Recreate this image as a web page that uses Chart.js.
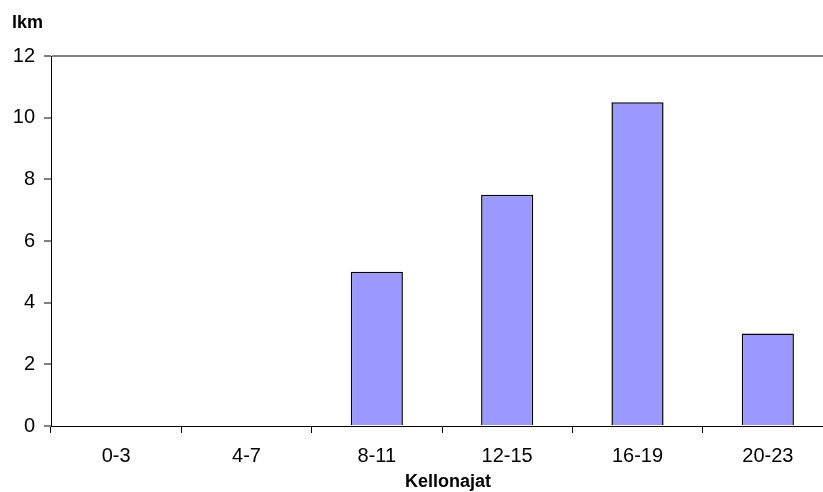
<!DOCTYPE html>
<html>
<head>
<meta charset="utf-8">
<script src="https://cdn.jsdelivr.net/npm/chart.js@4/dist/chart.umd.min.js"></script>
<style>
  html, body { margin: 0; padding: 0; background: #fff; overflow: hidden; }
  #wrap { width: 823px; height: 492px; overflow: hidden; }
  canvas { display: block; }
</style>
</head>
<body>
<div id="wrap"><canvas id="chart" width="835" height="492"></canvas></div>
<script>
// Kellonajat vs. lkm
const categories = ['0-3', '4-7', '8-11', '12-15', '16-19', '20-23'];
const counts = [0, 0, 5, 7.5, 10.5, 3];
const yTicks = [0, 2, 4, 6, 8, 10, 12];

const FONT = "'Liberation Sans', Arial, sans-serif";

// axis captions: "lkm" top-left, "Kellonajat" under the x labels
const captions = {
  id: 'captions',
  afterDraw(chart) {
    const ctx = chart.ctx;
    ctx.save();
    ctx.font = `bold 18px ${FONT}`;
    ctx.fillStyle = '#000';
    ctx.textBaseline = 'alphabetic';
    ctx.textAlign = 'left';
    ctx.fillText('lkm', 12, 28);
    ctx.textAlign = 'center';
    ctx.fillText('Kellonajat', 448, 487);
    ctx.restore();
  }
};

new Chart(document.getElementById('chart'), {
  type: 'bar',
  data: {
    labels: categories,
    datasets: [{
      data: counts,
      backgroundColor: '#9999ff',
      borderColor: '#000',
      borderWidth: 1.5,
      barPercentage: 0.4,
      categoryPercentage: 1,
    }],
  },
  options: {
    responsive: false,
    animation: false,
    layout: { padding: { top: 56, right: 2, bottom: 0, left: 0 } },
    plugins: {
      legend: { display: false },
      tooltip: { enabled: false },
    },
    scales: {
      y: {
        min: 0,
        max: 12,
        afterFit: s => { s.width = 51; },
        afterBuildTicks: s => { s.ticks = yTicks.map(v => ({ value: v })); },
        ticks: { color: '#000', padding: 9, font: { family: FONT, size: 20 } },
        grid: {
          color: c => (c.tick && c.tick.value === 12 ? '#808080' : 'transparent'),
          lineWidth: 2,
          tickColor: '#000',
          tickLength: 7,
          tickWidth: 1,
        },
        border: { color: '#000', width: 1 },
      },
      x: {
        afterFit: s => { s.height = 66; },
        ticks: { color: '#000', padding: 11, font: { family: FONT, size: 20 } },
        grid: {
          offset: true,
          color: 'transparent',
          tickColor: '#000',
          tickLength: 7,
        },
        border: { color: '#000', width: 1 },
      },
    },
  },
  plugins: [captions],
});
</script>
</body>
</html>
